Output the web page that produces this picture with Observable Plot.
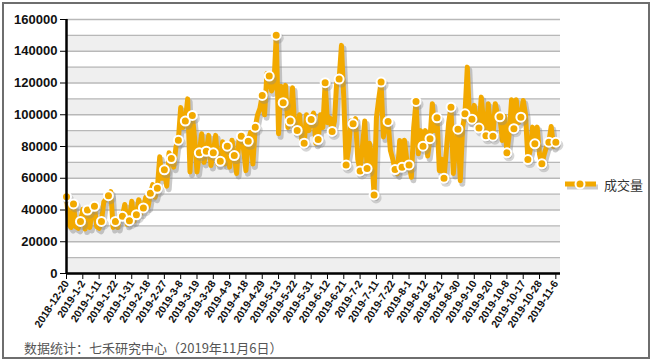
<!DOCTYPE html>
<html><head><meta charset="utf-8">
<script src="https://cdn.jsdelivr.net/npm/d3@7"></script>
<script src="https://cdn.jsdelivr.net/npm/@observablehq/plot@0.6"></script>
<style>
body{margin:0;background:#fff;}
#wrap{position:relative;width:654px;height:362px;overflow:hidden;font-family:"Liberation Sans",Arial,sans-serif;}
#chart{position:absolute;left:0;top:0;}
#frame{position:absolute;left:2px;top:2px;width:648px;height:357px;box-sizing:border-box;border:2px solid #6e6e6e;pointer-events:none;}
#legend{position:absolute;left:563px;top:175px;display:flex;align-items:center;font:13px "Noto Sans CJK SC",sans-serif;color:#333;}
#legend svg{margin-right:5px;}
#caption{position:absolute;left:24px;top:338px;font:13px "Noto Sans CJK SC",sans-serif;color:#555;}
</style></head>
<body>
<div id="wrap">
  <div id="chart"></div>
  <div id="legend"><svg width="36" height="18"><line x1="4" y1="11" x2="35" y2="11" stroke="#999" stroke-opacity="0.5" stroke-width="5"/><line x1="2" y1="8" x2="33" y2="8" stroke="#f2a900" stroke-width="5"/><circle cx="17" cy="8" r="4.5" fill="#f2a900" stroke="#fff" stroke-width="2"/></svg><span>成交量</span></div>
  <div id="caption">数据统计：七禾研究中心（2019年11月6日）</div>
  <div id="frame"></div>
</div>
<script>
const seriesName = "成交量";
const tickLabels = ["2018-12-20","2019-1-2","2019-1-11","2019-1-22","2019-1-31","2019-2-18","2019-2-27","2019-3-8","2019-3-19","2019-3-28","2019-4-9","2019-4-18","2019-4-29","2019-5-13","2019-5-22","2019-5-31","2019-6-12","2019-6-21","2019-7-2","2019-7-11","2019-7-22","2019-8-1","2019-8-12","2019-8-21","2019-8-30","2019-9-10","2019-9-20","2019-10-8","2019-10-17","2019-10-28","2019-11-6"];
const yTicks = [0,20000,40000,60000,80000,100000,120000,140000,160000];
const gridValues = [0,10000,20000,30000,40000,50000,60000,70000,80000,90000,100000,110000,120000,130000,140000,150000,160000];
const volume = [
48400,31000,29000,
43800,29500,28500,
32800,40500,28000,
40000,29000,39000,
42300,29500,28500,
32800,45000,47000,
49000,51500,29000,
32800,29000,37000,
36000,43500,31000,
33300,45500,33000,
37000,46500,38000,
41300,48000,42000,
50500,56000,48000,
53700,73500,60000,
65300,55000,76000,
72400,67000,80000,
84000,104500,92000,
96000,110000,64000,
99600,85000,64000,
76000,88000,70000,
77000,87000,68000,
76000,87000,69000,
70700,83000,69000,
80200,67000,84000,
74300,63000,84000,
86500,78000,64800,
83300,89000,69000,
92200,100000,104000,
112200,100000,126000,
124400,115000,118000,
150100,88000,118000,
107600,118500,92000,
96000,117000,90000,
90100,100000,84000,
82100,100000,90000,
97000,101000,82000,
84400,100000,92000,
120200,95000,98000,
89500,96000,122000,
122500,143700,110000,
68400,78000,96000,
94300,97500,72000,
64600,80000,96000,
66100,82000,74000,
49500,98000,110000,
120600,86000,96000,
95800,77500,72000,
65500,62800,83800,
66900,84000,72000,
68400,60600,92000,
108400,75400,90000,
80200,90000,74000,
84900,107000,90000,
98100,64800,72000,
60000,77500,95000,
104800,63000,80000,
90900,58500,92000,
100600,130000,96000,
97200,105900,94000,
91600,111100,95000,
86700,107000,92000,
86500,107000,100000,
98700,83800,99000,
76000,88000,109500,
91200,109500,95000,
98500,109000,100000,
71800,77500,92200,
81700,92200,75000,
69100,75000,80000,
82700,92600,80000,
82700
];
const markerEvery = 3;

const data = volume.map((v, i) => ({i, v}));
const markers = data.filter(d => d.i % markerEvery === 0);
const bands = gridValues.filter(v => v < 160000 && (v / 10000) % 2 === 0);
const tickIdx = tickLabels.map((_, k) => k * 7);
const xMax = 212;

const chart = Plot.plot({
  width: 654, height: 362,
  marginLeft: 66, marginRight: 94, marginTop: 19, marginBottom: 89,
  x: {domain: [0, xMax], ticks: tickIdx, tickFormat: i => tickLabels[Math.round(i / 7)], tickRotate: -57, tickSize: 6, tickPadding: 2, label: null},
  y: {domain: [0, 160000], ticks: yTicks, tickFormat: d3.format("d"), tickSize: 6, tickPadding: 3, label: null},
  style: {background: "transparent", overflow: "visible"},
  marks: [
    Plot.rect(bands, {x1: 0, x2: xMax, y1: d => d, y2: d => d + 10000, fill: "#efefef"}),
    Plot.ruleY(gridValues, {stroke: "#b8b8b8", strokeWidth: 1.3}),
    Plot.line(data, {x: "i", y: "v", dx: 2, dy: 3, stroke: "#8a8a8a", strokeOpacity: 0.45, strokeWidth: 6, strokeLinejoin: "round"}),
    Plot.line(data, {x: "i", y: "v", stroke: "#f2a900", strokeWidth: 5, strokeLinejoin: "round"}),
    Plot.dot(markers, {x: "i", y: "v", dx: 2, dy: 3, r: 5.5, fill: "#8a8a8a", fillOpacity: 0.35}),
    Plot.dot(markers, {x: "i", y: "v", r: 4.5, fill: "#f2a900", stroke: "#fff", strokeWidth: 2}),
    Plot.ruleX([0], {stroke: "#000", strokeWidth: 2.5}),
    Plot.ruleY([0], {stroke: "#000", strokeWidth: 2.5})
  ]
});
document.getElementById("chart").appendChild(chart);
const svg = d3.select(chart);
svg.selectAll('g[aria-label^="x-axis"] line, g[aria-label^="y-axis"] line')
  .attr("stroke", "#000").attr("stroke-width", 2.5);
svg.selectAll('g[aria-label^="y-axis"] text')
  .style("font", "bold 13px 'Liberation Sans', Arial, sans-serif").attr("fill", "#111");
svg.selectAll('g[aria-label^="x-axis"] text')
  .style("font", "bold 10.5px 'Liberation Sans', Arial, sans-serif").attr("fill", "#111");
</script>
</body></html>
